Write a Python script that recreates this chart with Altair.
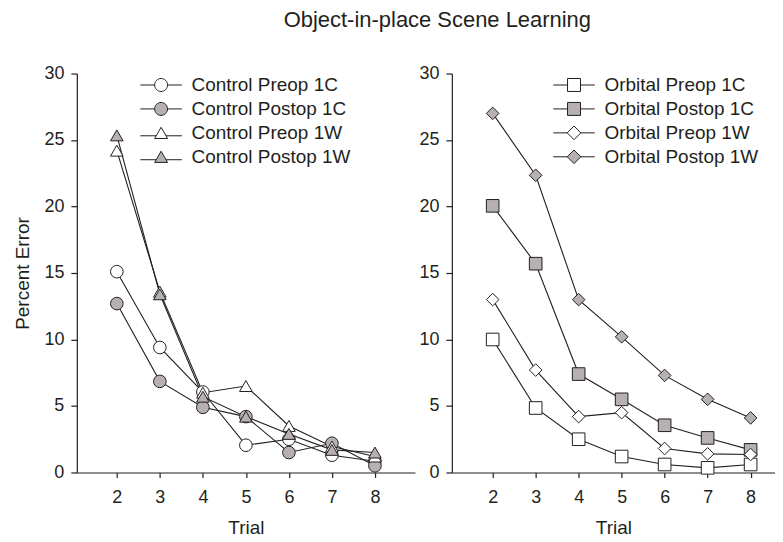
import altair as alt
import pandas as pd

# ---------------- data ----------------
trials = [2, 3, 4, 5, 6, 7, 8]

control_names = ["Control Preop 1C", "Control Postop 1C", "Control Preop 1W", "Control Postop 1W"]
control_preop_1c = [15.1, 9.4, 6.05, 2.05, 2.5, 1.3, 0.85]
control_postop_1c = [12.7, 6.85, 4.9, 4.2, 1.5, 2.2, 0.5]
control_preop_1w = [24.2, 13.6, 6.0, 6.5, 3.5, 1.95, 1.2]
control_postop_1w = [25.35, 13.4, 5.7, 4.2, 2.9, 1.7, 1.5]

orbital_names = ["Orbital Preop 1C", "Orbital Postop 1C", "Orbital Preop 1W", "Orbital Postop 1W"]
orbital_preop_1c = [10.0, 4.85, 2.5, 1.2, 0.6, 0.35, 0.6]
orbital_postop_1c = [20.05, 15.7, 7.4, 5.5, 3.55, 2.6, 1.7]
orbital_preop_1w = [13.0, 7.7, 4.2, 4.5, 1.8, 1.4, 1.35]
orbital_postop_1w = [27.0, 22.35, 13.0, 10.2, 7.3, 5.5, 4.1]

y_ticks = [0, 5, 10, 15, 20, 25, 30]

LINE = "#231f20"
GRAY = "#b6b0b1"
WHITE = "#ffffff"
FONT = "Liberation Sans"

fills = [WHITE, GRAY, WHITE, GRAY]
strokes = [LINE, LINE, LINE, LINE]


def to_long(names, series):
    rows = []
    for n, vals in zip(names, series):
        for t, v in zip(trials, vals):
            rows.append({"series": n, "trial": t, "value": v})
    return pd.DataFrame(rows)


# legend glyphs: marker with line segments on both sides (unit = marker half width)
CIRCLE_L = "M-3.2,0H-1M1,0H3.2M1,0A1,1,0,1,1,-1,0A1,1,0,1,1,1,0Z"
TRI_L = "M-3.2,0.45H-0.75M0.75,0.45H3.2M0,-0.866L1,0.866L-1,0.866Z"
SQUARE_L = "M-3.2,0H-1M1,0H3.2M-1,-1H1V1H-1Z"
DIAMOND_L = "M-3.2,0H-1M1,0H3.2M0,-1.05L1.05,0L0,1.05L-1.05,0Z"

TICK_PX = 43.1  # pixels per trial


def panel(df, names, shapes, legend_shapes, lx, ly, y_title, x_domain, width):
    x = alt.X(
        "trial:Q",
        scale=alt.Scale(domain=x_domain, nice=False, zero=False),
        axis=alt.Axis(values=trials, title="Trial", format="d", grid=False,
                      domainColor=LINE, tickColor=LINE, tickSize=5,
                      labelFont=FONT, labelFontSize=18, labelColor=LINE, labelPadding=11,
                      titleFont=FONT, titleFontSize=19, titleFontWeight="normal",
                      titleColor=LINE, titlePadding=12),
    )
    if y_title:
        yaxis = alt.Axis(values=y_ticks, title=y_title, grid=False,
                         domainColor=LINE, tickColor=LINE, tickSize=6,
                         labelFont=FONT, labelFontSize=18, labelColor=LINE, labelPadding=7,
                         titleFont=FONT, titleFontSize=19, titleFontWeight="normal",
                         titleColor=LINE, titlePadding=11)
    else:
        yaxis = alt.Axis(values=y_ticks, title=None, grid=False,
                         domainColor=LINE, tickColor=LINE, tickSize=6,
                         labelFont=FONT, labelFontSize=18, labelColor=LINE, labelPadding=7)
    y = alt.Y("value:Q", scale=alt.Scale(domain=[0, 30], nice=False), axis=yaxis)

    base = alt.Chart(df)
    lines = base.mark_line(color=LINE, strokeWidth=1.1).encode(x=x, y=y, detail="series:N")
    points = base.mark_point(filled=True, stroke=LINE, strokeWidth=1, size=160, opacity=1).encode(
        x=x, y=y,
        fill=alt.Fill("series:N", scale=alt.Scale(domain=names, range=fills), legend=None),
        shape=alt.Shape("series:N", scale=alt.Scale(domain=names, range=shapes), legend=None),
    )
    leg_props = dict(orient="none", legendX=lx, legendY=ly, title=None,
                     labelFont=FONT, labelFontSize=19, labelColor=LINE,
                     symbolSize=169, symbolStrokeColor=LINE, symbolStrokeWidth=1,
                     symbolOpacity=1, labelOffset=21, rowPadding=4, padding=0)
    leg = base.mark_point(filled=True, strokeWidth=1, size=169, opacity=0).encode(
        x=x, y=y,
        fill=alt.Fill("series:N", scale=alt.Scale(domain=names, range=fills),
                      legend=alt.Legend(**leg_props)),
        stroke=alt.Stroke("series:N", scale=alt.Scale(domain=names, range=strokes),
                          legend=alt.Legend(**leg_props)),
        shape=alt.Shape("series:N", scale=alt.Scale(domain=names, range=legend_shapes),
                        legend=alt.Legend(**leg_props)),
    )
    return alt.layer(lines, points, leg).resolve_scale(
        fill="independent", shape="independent", stroke="independent"
    ).properties(width=width, height=400)


left = panel(
    to_long(control_names, [control_preop_1c, control_postop_1c, control_preop_1w, control_postop_1w]),
    control_names,
    ["circle", "circle", "triangle-up", "triangle-up"],
    [CIRCLE_L, CIRCLE_L, TRI_L, TRI_L],
    75, 2, "Percent Error", [1.07, 8.93], 339,
)
right_width = 324
right = panel(
    to_long(orbital_names, [orbital_preop_1c, orbital_postop_1c, orbital_preop_1w, orbital_postop_1w]),
    orbital_names,
    ["square", "square", "diamond", "diamond"],
    [SQUARE_L, SQUARE_L, DIAMOND_L, DIAMOND_L],
    113, 2, None, [1.05, 1.05 + right_width / TICK_PX], right_width,
)

chart = alt.hconcat(left, right, spacing=3).properties(
    title=alt.TitleParams("Object-in-place Scene Learning", font=FONT, fontSize=22,
                          fontWeight="normal", color=LINE, anchor="middle", offset=25,
                          dx=43, dy=-8),
    padding={"left": 5, "top": 0, "right": 0, "bottom": 0},
).configure_view(stroke=None).configure_axis(domainWidth=1.2, tickWidth=1.2)

chart.save("out.html", embed_options={"renderer": "svg", "actions": False})
